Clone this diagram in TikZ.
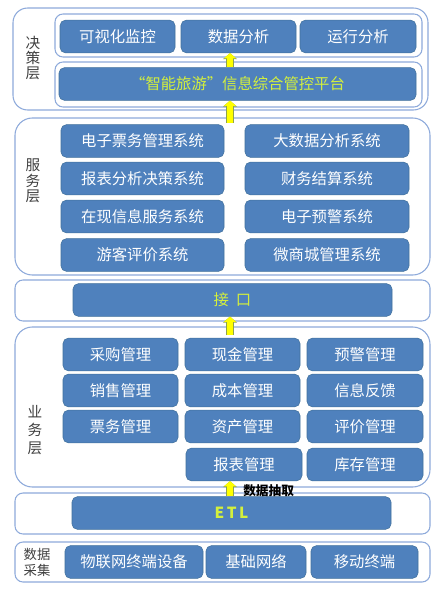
\documentclass[tikz,border=0pt]{standalone}
\usepackage{fontspec}
\setmainfont{Noto Sans CJK SC}
\usetikzlibrary{arrows.meta,positioning,calc}
\definecolor{boxblue}{HTML}{4F81BD}
\definecolor{boxedge}{HTML}{41719C}
\definecolor{panelline}{HTML}{8EAADB}
\definecolor{labeltext}{HTML}{404040}
\definecolor{hilite}{HTML}{D4F03C}
\definecolor{arrowfill}{HTML}{FFFF00}
\definecolor{arrowedge}{HTML}{8FA34A}

\begin{document}
\begin{tikzpicture}[x=0.75pt,y=-0.75pt,
  font=\fontsize{11.5}{14}\selectfont,
  panel/.style={draw=panelline,fill=white,line width=0.8pt,rounded corners=#1},
  panel/.default=6pt,
  sys/.style={rectangle,rounded corners=4pt,draw=boxedge,fill=boxblue,text=white,
              line width=0.4pt,minimum height=24.5pt,inner sep=0pt},
  wd/.style={minimum width=#1*0.75pt},
  hl/.style={text=hilite},
  tag/.style={text=labeltext,align=center,font=\fontsize{11}{#1}\selectfont},
  tag/.default=11.5,
  flow/.style={draw=arrowfill,line width=5pt,-{Triangle[width=9pt,length=4pt]},
               preaction={draw=arrowedge,line width=5.8pt,-{Triangle[width=10.4pt,length=4.6pt]}}},
  note/.style={font=\fontsize{9.5}{11}\selectfont\bfseries,text=black,anchor=west,inner sep=0pt}
]
\useasboundingbox[fill=white] (0,0) rectangle (446,595);

% panels
\draw[panel=11pt] (13,8) rectangle (428,110);
\draw[panel] (55,14) rectangle (422,57);
\draw[panel] (55,62) rectangle (422,107);
\draw[panel=13pt] (15,118) rectangle (430,275);
\draw[panel] (15,280) rectangle (430,321);
\draw[panel=13pt] (15,327) rectangle (430,487);
\draw[panel] (15,493) rectangle (430,534);
\draw[panel] (15,542) rectangle (430,582);

% layer names
\node[tag] (lyrdec) at (33,58)  {决\\策\\层};
\node[tag] (lyrsrv) at (33,181) {服\\务\\层};
\node[tag=13.5] (lyrbus) at (35,430) {业\\务\\层};
\node[tag=12,font=\fontsize{10}{12}\selectfont] (lyrcol) at (37,562) {数据\\采集};

% decision layer
\node[sys,wd=115] (mon) at (117.5,36.5) {可视化监控};
\node[sys,wd=115] (ana) at (238.5,36.5) {数据分析};
\node[sys,wd=116] (run) at (358,36.5)   {运行分析};
\node[sys,wd=357,hl] (plat) at (237.5,84) {“智能旅游”信息综合管控平台};

% service layer
\node[sys,wd=163] (ticket) at (142.5,141)  {电子票务管理系统};
\node[sys,wd=163] (report) at (142.5,178.5){报表分析决策系统};
\node[sys,wd=163] (online) at (142.5,216.5){在现信息服务系统};
\node[sys,wd=163] (review) at (142.5,255)  {游客评价系统};
\node[sys,wd=164] (bigdata) at (327,141)   {大数据分析系统};
\node[sys,wd=164] (finance) at (327,178.5) {财务结算系统};
\node[sys,wd=164] (alarm) at (327,216.5)   {电子预警系统};
\node[sys,wd=164] (shop) at (327,255)      {微商城管理系统};

% interface
\node[sys,wd=319,hl] (api) at (232.5,300) {接\ \ 口};

% business layer
\node[sys,wd=115] (buy)   at (120.5,354.5) {采购管理};
\node[sys,wd=115] (sale)  at (120.5,390.5) {销售管理};
\node[sys,wd=115] (tkt)   at (120.5,426.5) {票务管理};
\node[sys,wd=115] (cash)  at (242.5,354.5) {现金管理};
\node[sys,wd=115] (cost)  at (242.5,390.5) {成本管理};
\node[sys,wd=115] (asset) at (242.5,426.5) {资产管理};
\node[sys,wd=116] (rep)   at (244,464.5)   {报表管理};
\node[sys,wd=116] (warn)  at (365,354.5)   {预警管理};
\node[sys,wd=116] (fb)    at (365,390.5)   {信息反馈};
\node[sys,wd=116] (eval)  at (365,426.5)   {评价管理};
\node[sys,wd=116] (stock) at (365,464.5)   {库存管理};

% ETL
\node[sys,wd=319,hl,font=\fontsize{11.5}{14}\selectfont\bfseries] (etl) at (231.5,513) {E\,T\,L};

% data collection
\node[sys,wd=138] (iot)  at (134,562)   {物联网终端设备};
\node[sys,wd=100] (net)  at (256,562)   {基础网络};
\node[sys,wd=107] (mob)  at (364.5,562) {移动终端};

% arrows
\coordinate (ax) at (230,0);
\coordinate (srvtop) at (230,123);
\coordinate (bustop) at (230,335);
\draw[flow] (ax |- plat.north) -- (ax |- ana.south);
\draw[flow] (srvtop) -- (ax |- plat.south);
\draw[flow] (bustop) -- (ax |- api.south);
\draw[flow] (ax |- etl.north) -- (ax |- rep.south);
\node[note] (extract) at (243,491) {数据抽取};
\end{tikzpicture}
\end{document}
